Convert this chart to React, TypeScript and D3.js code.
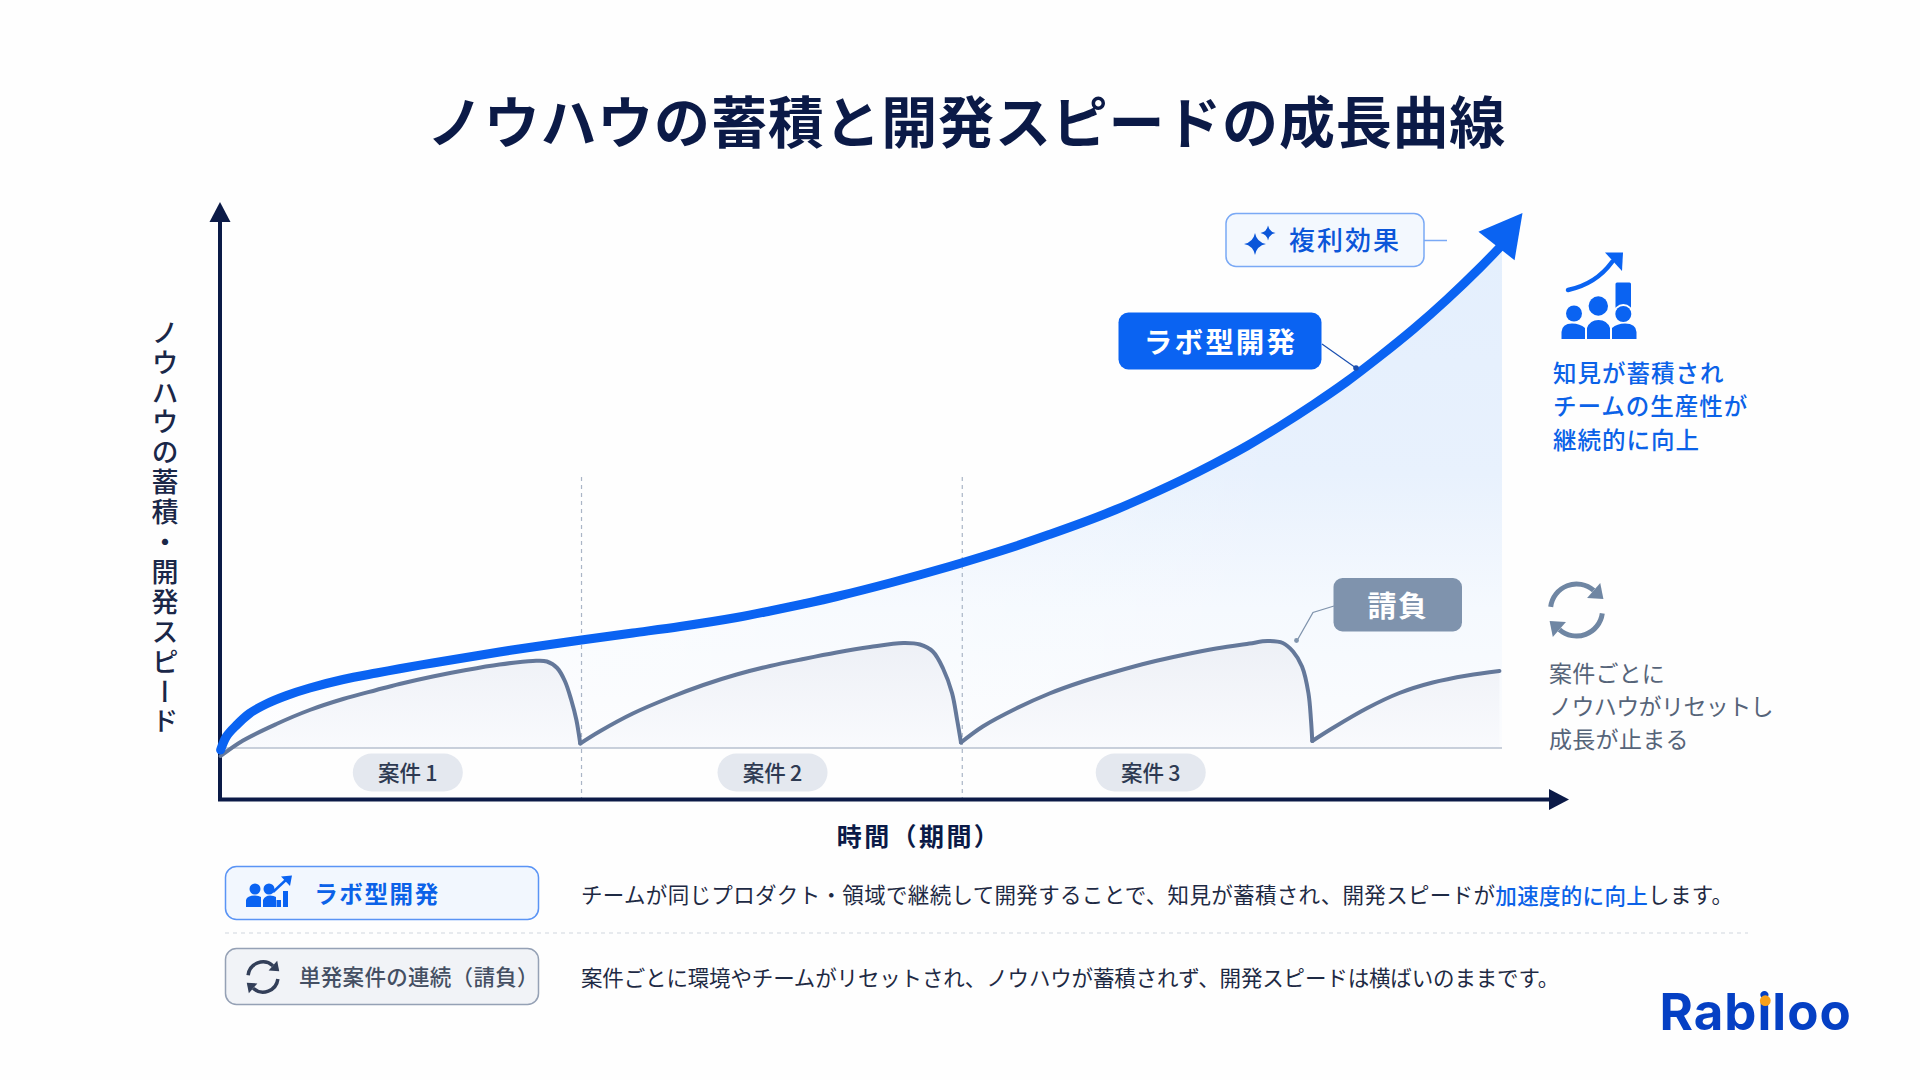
import React from "react";
import * as d3 from "d3";

const FONT = "'Noto Sans CJK JP', 'Noto Sans', sans-serif";
const NAVY = "#0b1a47";
const BLUE = "#0a63f2";
const GREY = "#64789a";

// time (0-100), speed value
const labTime = [0.05, 0.5, 1.3, 2.3, 3.6, 5.2, 7.0, 9.6, 12.2, 14, 16.6, 19.2, 21.8, 24.4, 28.2, 32.2, 35.9, 40.3, 42.9, 45.5, 48.1, 52.4, 56.9, 59.5, 62.1, 64.7, 67.3, 69.9, 72.5, 75.1, 77.5, 80.1, 82.7, 85.3, 87.9, 90.5, 93.1, 95.7, 98.3, 100];
const labSpeed = [-0.4, 2.3, 4.6, 6.9, 8.8, 10.5, 12, 13.7, 15, 15.85, 17, 18.1, 19.2, 20.2, 21.6, 23, 24.3, 26.1, 27.4, 28.8, 30.3, 33.1, 36.3, 38.3, 40.4, 42.7, 45.1, 47.7, 50.6, 53.7, 56.8, 60.4, 64.4, 68.7, 73.3, 78.4, 83.8, 89.7, 96.1, 100.6];
const arrowTip = [101.6, 107];

const case1Time = [0.05, 1.8, 4.4, 7, 9.6, 12.2, 14, 16.6, 19.2, 21.8, 24.4, 25.5, 26.3, 26.9, 27.4, 27.8, 28.1];
const case1Speed = [-1.6, 1.5, 4.8, 7.6, 9.8, 11.6, 12.8, 14.3, 15.6, 16.7, 17.4, 17.3, 16.0, 13.4, 9.6, 5.6, 0.9];
const case2Time = [28.1, 29.6, 32.2, 35.1, 37.7, 40.3, 42.9, 45.5, 48.1, 50.7, 53.3, 54.6, 55.6, 56.4, 57.1, 57.5, 57.8];
const case2Speed = [0.9, 3.3, 6.9, 10.1, 12.6, 14.7, 16.4, 17.8, 19.1, 20.2, 21.0, 20.7, 19.3, 15.9, 11, 5.6, 1.1];
const case3Time = [57.8, 59.5, 62.1, 64.7, 67.3, 69.9, 72.5, 75.1, 77.7, 80.3, 81.7, 82.9, 83.7, 84.4, 84.9, 85.1, 85.2];
const case3Speed = [1.1, 4.3, 7.9, 10.9, 13.3, 15.3, 17.1, 18.6, 19.9, 20.9, 21.4, 21, 19.3, 16.3, 11, 5.6, 1.4];
const case4Time = [85.2, 86.8, 89.5, 92, 94.6, 97.3, 99.8];
const case4Speed = [1.4, 4, 8, 11, 13.1, 14.5, 15.4];

const boundaries = [28.2, 57.9];
const caseLabels = ["案件 1", "案件 2", "案件 3"];
const caseLabelTimes = [14.65, 43.1, 72.6];

const titleText = "ノウハウの蓄積と開発スピードの成長曲線";
const yLabel = "ノウハウの蓄積・開発スピード";
const xLabel = "時間（期間）";
const labNote = ["知見が蓄積され", "チームの生産性が", "継続的に向上"];
const ukeoiNote = ["案件ごとに", "ノウハウがリセットし", "成長が止まる"];
const labDesc = ["チームが同じプロダクト・領域で継続して開発することで、知見が蓄積され、開発スピードが", "加速度的に向上", "します。"];
const ukeoiDesc = "案件ごとに環境やチームがリセットされ、ノウハウが蓄積されず、開発スピードは横ばいのままです。";

const x = d3.scaleLinear().domain([0, 100]).range([220, 1502]);
const y = d3.scaleLinear().domain([0, 100]).range([748, 248]);

type P = [number, number];
const zip = (a: number[], b: number[]): P[] => a.map((t, i) => [t, b[i]]);

const labPts = zip(labTime, labSpeed);
const segments = [zip(case1Time, case1Speed), zip(case2Time, case2Speed), zip(case3Time, case3Speed), zip(case4Time, case4Speed)];

const curve = d3.curveCatmullRom.alpha(0.5);
const lineGen = d3.line<P>().x((d) => x(d[0])).y((d) => y(d[1])).curve(curve);
const areaGen = d3.area<P>().x((d) => x(d[0])).y0(y(0)).y1((d) => y(d[1])).curve(curve);

function star(cx: number, cy: number, r: number) {
  const k = r * 0.16;
  return `M${cx},${cy - r}Q${cx + k},${cy - k} ${cx + r},${cy}Q${cx + k},${cy + k} ${cx},${cy + r}Q${cx - k},${cy + k} ${cx - r},${cy}Q${cx - k},${cy - k} ${cx},${cy - r}Z`;
}

function CycleIcon({ cx, cy, r, sw, color, head }: { cx: number; cy: number; r: number; sw: number; color: string; head: number }) {
  const arc = d3.arc<any>().innerRadius(r - sw / 2).outerRadius(r + sw / 2);
  const a1 = arc({ startAngle: -1.45, endAngle: 0.72 } as any) as string;
  const a2 = arc({ startAngle: 1.7, endAngle: 3.86 } as any) as string;
  const tip = (ang: number) => {
    const px = r * Math.sin(ang);
    const py = -r * Math.cos(ang);
    const tx = Math.cos(ang);
    const ty = Math.sin(ang);
    const nx = Math.sin(ang);
    const ny = -Math.cos(ang);
    return `M${px + nx * head},${py + ny * head}L${px - nx * head},${py - ny * head}L${px + tx * head * 1.3},${py + ty * head * 1.3}Z`;
  };
  return (
    <g transform={`translate(${cx},${cy})`} fill={color}>
      <path d={a1} />
      <path d={a2} />
      <path d={tip(0.72)} />
      <path d={tip(3.86)} />
    </g>
  );
}

function T(props: any) {
  return <text fontFamily={FONT} dominantBaseline="central" {...props} />;
}

export default function App() {
  const tip: P = [x(arrowTip[0]), y(arrowTip[1])];
  const baseC: P = [1496.5, 246];
  const dx = tip[0] - baseC[0];
  const dy = tip[1] - baseC[1];
  const len = Math.hypot(dx, dy);
  const nx = -dy / len;
  const ny = dx / len;
  const hw = 23;
  const head = `M${tip[0]},${tip[1]}L${baseC[0] + nx * hw},${baseC[1] + ny * hw}L${baseC[0] - nx * hw},${baseC[1] - ny * hw}Z`;

  return (
    <div style={{ position: "fixed", left: 0, top: 0, width: 1920, height: 1080, background: "#fff" }}>
      <svg width={1920} height={1080} viewBox="0 0 1920 1080" style={{ display: "block" }}>
        <defs>
          <linearGradient id="labFill" gradientUnits="userSpaceOnUse" x1={0} y1={250} x2={0} y2={748}>
            <stop offset="0" stopColor="#e4effd" />
            <stop offset="0.45" stopColor="#e8f1fd" />
            <stop offset="0.72" stopColor="#f5f9fe" />
            <stop offset="1" stopColor="#fbfcfe" />
          </linearGradient>
          <linearGradient id="labFade" gradientUnits="userSpaceOnUse" x1={220} y1={0} x2={1300} y2={0}>
            <stop offset="0" stopColor="#ffffff" stopOpacity={0.55} />
            <stop offset="1" stopColor="#ffffff" stopOpacity={0} />
          </linearGradient>
          <linearGradient id="greyFill" gradientUnits="userSpaceOnUse" x1={0} y1={640} x2={0} y2={748}>
            <stop offset="0" stopColor="#edf0f6" />
            <stop offset="1" stopColor="#f9fafd" />
          </linearGradient>
        </defs>
        <rect width={1920} height={1080} fill="#fefefe" />

        <T x={966.5} y={118.5} textAnchor="middle" fontSize={56} fontWeight={700} fill={NAVY} letterSpacing={0.8}>{titleText}</T>

        {/* filled areas */}
        <path d={areaGen(labPts) ?? ""} fill="url(#labFill)" />
        <path d={areaGen(labPts) ?? ""} fill="url(#labFade)" />
        {segments.map((s, i) => (
          <path key={i} d={areaGen(s) ?? ""} fill="url(#greyFill)" />
        ))}

        {/* baseline + boundaries */}
        <line x1={x(0)} x2={x(100)} y1={y(0)} y2={y(0)} stroke="#b7c0cf" strokeWidth={1.5} />
        {boundaries.map((b) => (
          <line key={b} x1={x(b)} x2={x(b)} y1={477} y2={798} stroke="#aab5c6" strokeWidth={1.2} strokeDasharray="4 4" />
        ))}

        {/* axes */}
        <line x1={220} x2={220} y1={218} y2={801} stroke={NAVY} strokeWidth={4} />
        <path d="M220,202L230.5,222L209.5,222Z" fill={NAVY} />
        <line x1={218} x2={1552} y1={799.5} y2={799.5} stroke={NAVY} strokeWidth={4} />
        <path d="M1569,799.5L1549,789L1549,810Z" fill={NAVY} />

        {/* curves */}
        {segments.map((s, i) => (
          <path key={i} d={lineGen(s) ?? ""} fill="none" stroke={GREY} strokeWidth={4} strokeLinejoin="round" strokeLinecap="round" />
        ))}
        <path d={lineGen(labPts) ?? ""} fill="none" stroke={BLUE} strokeWidth={9} strokeLinecap="round" />
        <path d={head} fill={BLUE} />

        {/* case pills */}
        {caseLabels.map((c, i) => (
          <g key={c}>
            <rect x={x(caseLabelTimes[i]) - 55} y={753.5} width={110} height={38} rx={19} fill="#e4e8ef" />
            <T x={x(caseLabelTimes[i])} y={771.3} textAnchor="middle" fontSize={21.5} fontWeight={500} fill="#2e3a52">{c.replace(" ", "\u2009")}</T>
          </g>
        ))}

        {/* axis labels */}
        <text x={165} y={319} fontFamily={FONT} fontSize={27} fontWeight={500} fill="#1a2748" letterSpacing={2.9} style={{ writingMode: "vertical-rl" }}>{yLabel}</text>
        <T x={919} y={835} textAnchor="middle" fontSize={25} fontWeight={700} fill={NAVY} letterSpacing={2.4}>{xLabel}</T>

        {/* 複利効果 */}
        <line x1={1424} x2={1447} y1={240.5} y2={240.5} stroke="#7aa9f5" strokeWidth={1.5} />
        <rect x={1226} y={213.5} width={198} height={53} rx={10} fill="#f3f8fe" stroke="#7aa9f5" strokeWidth={1.5} />
        <path d={star(1255, 244, 11)} fill="#0b56d9" />
        <path d={star(1268, 233, 7.5)} fill="#0b56d9" />
        <T x={1345} y={238.5} textAnchor="middle" fontSize={26} fontWeight={500} fill="#0b56d9" letterSpacing={2}>複利効果</T>

        {/* ラボ型開発 callout */}
        <line x1={1322} y1={344} x2={1356} y2={368} stroke="#1a4fb0" strokeWidth={1.2} />
        <circle cx={1356} cy={368} r={2.8} fill="#1a4fb0" />
        <rect x={1118.5} y={312.5} width={203} height={57} rx={10} fill={BLUE} />
        <T x={1220.5} y={340.5} textAnchor="middle" fontSize={28.5} fontWeight={700} fill="#fff" letterSpacing={2.2}>ラボ型開発</T>

        {/* 請負 callout */}
        <path d="M1334,606L1313,612.5L1296.5,641.5" fill="none" stroke="#8094ad" strokeWidth={1.3} />
        <circle cx={1296.5} cy={640.5} r={2.4} fill="#8094ad" />
        <rect x={1333.5} y={578} width={128.5} height={53.5} rx={9} fill="#7f93ad" />
        <T x={1398} y={604} textAnchor="middle" fontSize={29} fontWeight={700} fill="#fff" letterSpacing={1.5}>請負</T>

        {/* right icon: team */}
        <g fill={BLUE}>
          <path d="M1568,290Q1596,284 1612,262" fill="none" stroke={BLUE} strokeWidth={4.5} strokeLinecap="round" />
          <path d="M1605,252.5L1623,252.5L1622,271Z" />
          <rect x={1615.5} y={282.5} width={15.5} height={26} rx={1.5} />
          <circle cx={1623.3} cy={314} r={10} fill="#fefefe" />
          <circle cx={1574} cy={313.5} r={8} />
          <circle cx={1598.3} cy={306} r={9.7} />
          <circle cx={1623.3} cy={314} r={8} />
          <path d="M1561.5,339V332Q1562,323.5 1572,323.5Q1580,323.5 1585,328V339Z" />
          <path d="M1587,339V328Q1590,320 1598.5,320Q1607,320 1610,328V339Z" />
          <path d="M1612,339V328Q1617,323.5 1625,323.5Q1636,323.5 1636.5,332V339Z" />
        </g>
        {labNote.map((t, i) => (
          <T key={t} x={1553} y={[371.8, 404.8, 438.8][i]} fontSize={23.5} fontWeight={500} fill="#0b62e8" letterSpacing={1}>{t}</T>
        ))}

        <CycleIcon cx={1576.5} cy={610} r={26} sw={5} color="#6f86a3" head={10} />
        {ukeoiNote.map((t, i) => (
          <T key={t} x={1549} y={[671.5, 704.5, 737.5][i]} fontSize={23} fontWeight={400} fill="#566479" letterSpacing={[0.2, -0.6, 0.3][i]}>{t}</T>
        ))}

        {/* legend */}
        <rect x={225.5} y={866.5} width={313} height={53} rx={11} fill="#f2f7fe" stroke="#5a94f5" strokeWidth={1.5} />
        <g fill={BLUE}>
          <circle cx={255} cy={889} r={5.5} />
          <circle cx={269} cy={889} r={5.5} />
          <path d="M246,907V900Q247,895.5 255,895.5Q259,895.5 261,897V907Z" />
          <path d="M263,907V900Q265,895.5 270,895.5Q274,895.5 276,897V907Z" />
          <rect x={276.5} y={900} width={4.5} height={7} />
          <rect x={283} y={891} width={5} height={16} />
          <path d="M273,892L288,878" fill="none" stroke={BLUE} strokeWidth={2.5} />
          <path d="M281,876.5L292,875.5L290,886Z" />
        </g>
        <T x={377} y={892.8} textAnchor="middle" fontSize={23.5} fontWeight={700} fill="#0b62e8" letterSpacing={1.6}>ラボ型開発</T>
        <line x1={225} x2={1748} y1={933} y2={933} stroke="#dfe3e9" strokeWidth={1.5} strokeDasharray="4 4" />
        <rect x={225.5} y={948.5} width={313} height={56} rx={11} fill="#f1f3f7" stroke="#95a1b5" strokeWidth={1.5} />
        <CycleIcon cx={263} cy={977} r={15} sw={3.5} color="#333f59" head={6.5} />
        <T x={299} y={975.8} fontSize={21.5} fontWeight={500} fill="#444f63" letterSpacing={0.3}>単発案件の連続（請負）</T>

        <T x={581} y={893.7} fontSize={21.5} fontWeight={400} fill="#1e2a44" letterSpacing={0.33}>
          {labDesc[0]}
          <tspan fill="#0b62e8" fontWeight={500}>{labDesc[1]}</tspan>
          {labDesc[2]}
        </T>
        <T x={581} y={976.7} fontSize={21.5} fontWeight={400} fill="#1e2a44" letterSpacing={-0.15}>{ukeoiDesc}</T>

        {/* logo */}
        <text x={1659.5} y={1030} fontFamily="Inter, sans-serif" fontSize={51} fontWeight={700} fill="#0540c4" letterSpacing={1}>Rabiloo</text>
        <circle cx={1765.3} cy={1000.7} r={5.4} fill="#f9a11b" />
      </svg>
    </div>
  );
}
